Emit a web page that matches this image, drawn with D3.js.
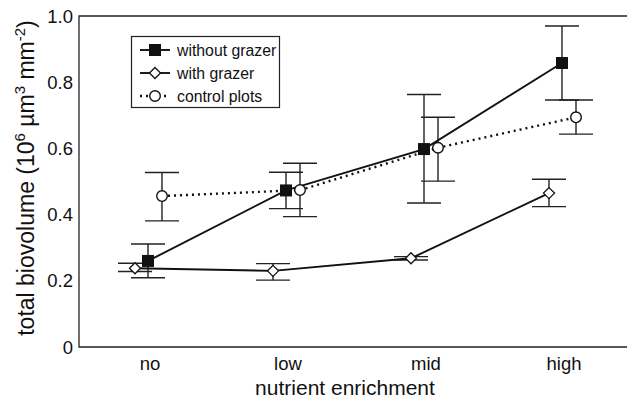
<!DOCTYPE html>
<html>
<head>
<meta charset="utf-8">
<script src="https://cdn.jsdelivr.net/npm/d3@7"></script>
<style>
body{margin:0;background:#fff;}
svg{font-family:"Liberation Sans",Arial,sans-serif;}
</style>
</head>
<body>
<div id="chart"></div>
<script>
var categories = ['no','low','mid','high'];
var yTicks = [0,0.2,0.4,0.6,0.8,1.0];

//mean, lower bar, upper bar
var withoutMean = [0.26,0.473,0.598,0.858];
var withoutLow  = [0.209,0.418,0.435,0.746];
var withoutHigh = [0.311,0.528,0.763,0.970];

var withMean = [0.238,0.230,0.268,0.465];
var withLow  = [0.228,0.202,0.263,0.424];
var withHigh = [0.253,0.252,0.273,0.507];

var ctrlMean = [0.456,0.474,0.602,0.694];
var ctrlLow  = [0.381,0.394,0.501,0.643];
var ctrlHigh = [0.527,0.555,0.694,0.746];

var w = 627, h = 403;
var pLeft = 79, pTop = 16, pRight = 627, pBottom = 347;

var svg = d3.select('div#chart').append('svg')
			.attr('width',w)
			.attr('height',h);

var x = d3.scalePoint().domain(categories).range([148,562]);
var y = d3.scaleLinear().domain([0,1]).range([pBottom,pTop]);

//frame
svg.append('path')
	.attr('d','M'+pRight+','+pTop+'H'+pLeft+'V'+pBottom+'H'+pRight)
	.attr('fill','none')
	.attr('stroke','#222')
	.attr('stroke-width',1.3);

//y tick labels
svg.selectAll('text.ytick').data(yTicks).enter()
	.append('text')
	.attr('class','ytick')
	.attr('x',pLeft-6)
	.attr('y',function(d){return y(d)+6.5;})
	.attr('text-anchor','end')
	.attr('font-size',18.5)
	.attr('fill','#111')
	.text(function(d){return d === 0 ? '0' : d.toFixed(1);});

//x tick labels
svg.selectAll('text.xtick').data(categories).enter()
	.append('text')
	.attr('class','xtick')
	.attr('x',function(d){return x(d)+2;})
	.attr('y',pBottom+23)
	.attr('text-anchor','middle')
	.attr('font-size',18.5)
	.attr('fill','#111')
	.text(function(d){return d;});

//axis titles
svg.append('text')
	.attr('x',345)
	.attr('y',395)
	.attr('text-anchor','middle')
	.attr('font-size',21)
	.attr('fill','#111')
	.text('nutrient enrichment');

var yt = svg.append('text')
	.attr('transform','translate(34,178) rotate(-90)')
	.attr('text-anchor','middle')
	.attr('font-size',23)
	.attr('fill','#111');
yt.append('tspan').text('total biovolume (10');
yt.append('tspan').attr('font-size',15).attr('dy',-9).text('6');
yt.append('tspan').attr('dy',9).text(' \u00b5m');
yt.append('tspan').attr('font-size',15).attr('dy',-9).text('3');
yt.append('tspan').attr('dy',9).text(' mm');
yt.append('tspan').attr('font-size',15).attr('dy',-9).text('-2');
yt.append('tspan').attr('dy',9).text(')');

var series = [
	{name:'without grazer', mean:withoutMean, lo:withoutLow, hi:withoutHigh, off:0, dash:null, sym:'square'},
	{name:'with grazer', mean:withMean, lo:withLow, hi:withHigh, off:-13, dash:null, sym:'diamond'},
	{name:'control plots', mean:ctrlMean, lo:ctrlLow, hi:ctrlHigh, off:14, dash:'2,4', sym:'circle'}
];

var capHalf = 17;

var drawSym = function(g,sym,cx,cy){
	if (sym === 'square') {
		g.append('rect').attr('x',cx-6).attr('y',cy-6).attr('width',12).attr('height',12)
			.attr('fill','#111');
	} else if (sym === 'diamond') {
		g.append('path').attr('d','M'+cx+','+(cy-5.5)+'L'+(cx+5.5)+','+cy+'L'+cx+','+(cy+5.5)+'L'+(cx-5.5)+','+cy+'Z')
			.attr('fill','#fff').attr('stroke','#111').attr('stroke-width',1.3);
	} else {
		g.append('circle').attr('cx',cx).attr('cy',cy).attr('r',5.3)
			.attr('fill','#fff').attr('stroke','#111').attr('stroke-width',1.4);
	}
};

//error bars first, then lines, then symbols
series.forEach(function(s){
	var g = svg.append('g');
	categories.forEach(function(c,i){
		var cx = x(c)+s.off;
		g.append('line').attr('x1',cx).attr('x2',cx)
			.attr('y1',y(s.lo[i])).attr('y2',y(s.hi[i]))
			.attr('stroke','#222').attr('stroke-width',1.4);
		[s.lo[i],s.hi[i]].forEach(function(v){
			g.append('line').attr('x1',cx-capHalf).attr('x2',cx+capHalf)
				.attr('y1',y(v)).attr('y2',y(v))
				.attr('stroke','#222').attr('stroke-width',1.4);
		});
	});
});

series.forEach(function(s){
	var line = d3.line()
		.x(function(d,i){return x(categories[i])+s.off;})
		.y(function(d){return y(d);});
	svg.append('path')
		.attr('d',line(s.mean))
		.attr('fill','none')
		.attr('stroke','#111')
		.attr('stroke-width',s.dash ? 2.4 : 1.9)
		.attr('stroke-dasharray',s.dash);
});

series.forEach(function(s){
	var g = svg.append('g');
	s.mean.forEach(function(v,i){
		drawSym(g,s.sym,x(categories[i])+s.off,y(v));
	});
});

//legend
var legend = svg.append('g');
legend.append('rect')
	.attr('x',131.5).attr('y',36.5).attr('width',148).attr('height',71)
	.attr('fill','#fff').attr('stroke','#222').attr('stroke-width',1.2);

series.forEach(function(s,i){
	var ly = 50+i*23;
	legend.append('line').attr('x1',140).attr('x2',170)
		.attr('y1',ly).attr('y2',ly)
		.attr('stroke','#111')
		.attr('stroke-width',s.dash ? 2.4 : 1.9)
		.attr('stroke-dasharray',s.dash);
	drawSym(legend,s.sym,155,ly);
	legend.append('text')
		.attr('x',177).attr('y',ly+5.5)
		.attr('font-size',15.8)
		.attr('fill','#111')
		.text(s.name);
});
</script>
</body>
</html>
